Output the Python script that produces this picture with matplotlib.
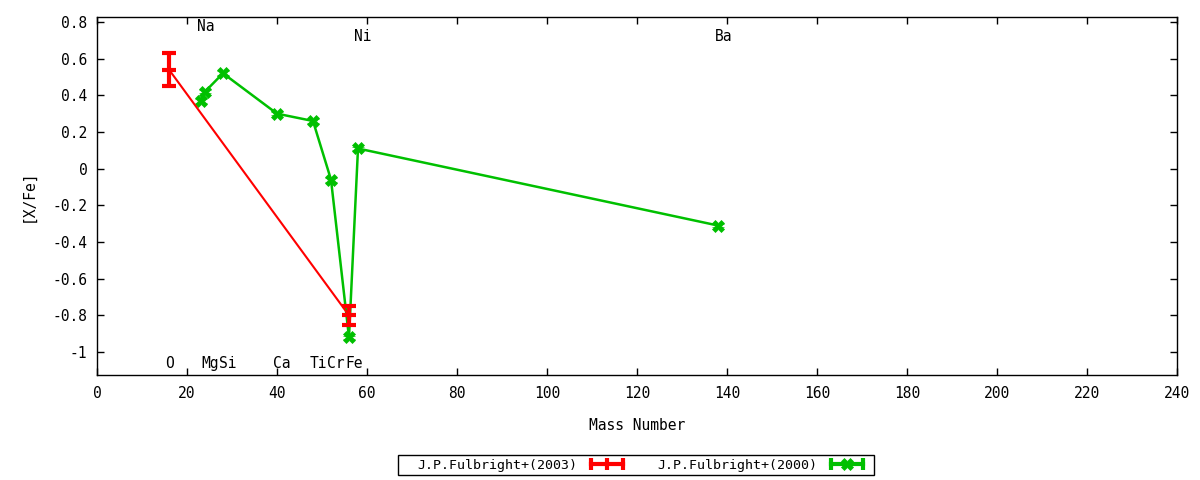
import matplotlib
matplotlib.use("Agg")
import matplotlib.pyplot as plt
from matplotlib.lines import Line2D
from matplotlib.patches import Rectangle
from matplotlib.legend_handler import HandlerLine2D, HandlerTuple

plt.rcParams['font.family'] = ['DejaVu Sans Mono']
plt.rcParams['font.size'] = 9.5

# Data
f2003_mass = [16, 56]
f2003_val = [0.54, -0.80]
f2003_err = [0.09, 0.05]
f2003_label = "J.P.Fulbright+(2003)"

f2000_mass = [23, 24, 28, 40, 48, 52, 56, 58, 138]
f2000_val = [0.37, 0.42, 0.52, 0.30, 0.26, -0.06, -0.92, 0.11, -0.31]
f2000_err = [0.01, 0.01, 0.01, 0.01, 0.01, 0.01, 0.01, 0.01, 0.01]
f2000_label = "J.P.Fulbright+(2000)"

top_elements = ["Na", "Ni", "Ba"]
top_mass = [23, 58, 138]
top_y = [0.773, 0.718, 0.718]
bottom_elements = ["O", "Mg", "Si", "Ca", "Ti", "Cr", "Fe"]
bottom_mass = [16, 24, 28, 40, 48, 52, 56]
bottom_y = -1.06

xticks = list(range(0, 241, 20))
yticks = [0.8, 0.6, 0.4, 0.2, 0, -0.2, -0.4, -0.6, -0.8, -1]
ytick_labels = ["0.8", "0.6", "0.4", "0.2", "0", "-0.2", "-0.4", "-0.6", "-0.8", "-1"]

fig = plt.figure(figsize=(12, 4.8), dpi=100)
ax = fig.add_axes([97/1200, 1-375/480, (1177-97)/1200, (375-17)/480])

red = '#ff0000'
green = '#00c000'

ax.errorbar(f2003_mass, f2003_val, yerr=f2003_err, color=red, lw=1.5,
            elinewidth=3, capsize=5, capthick=3, marker='_', ms=10, mew=3,
            zorder=3)
ax.errorbar(f2000_mass, f2000_val, yerr=f2000_err, color=green, lw=1.8,
            elinewidth=3, capsize=4, capthick=3, marker='X', ms=9, mew=0.5,
            zorder=2)

for el, m, yy in zip(top_elements, top_mass, top_y):
    ax.text(m - 0.8, yy, el, ha='left', va='center', fontsize=10.5)
for el, m in zip(bottom_elements, bottom_mass):
    ax.text(m - 0.8, bottom_y, el, ha='left', va='center', fontsize=10.5)

ax.set_xlim(0, 240)
ax.set_ylim(-1.125, 0.827)
ax.set_xticks(xticks)
ax.set_yticks(yticks)
ax.set_yticklabels(ytick_labels, fontsize=10.5)
ax.set_xticklabels([str(v) for v in xticks], fontsize=10.5)
ax.tick_params(direction='in', top=True, right=True, length=5, width=1)
ax.tick_params(axis='x', pad=8)
ax.tick_params(axis='y', pad=7)
ax.set_xlabel("Mass Number", labelpad=12, fontsize=10.5)
ax.set_ylabel("[X/Fe]", labelpad=12, fontsize=10.5)
for s in ax.spines.values():
    s.set_linewidth(1)

# Legend proxies (gnuplot-style: line with end caps and centre marker)
r_caps = Line2D([], [], color=red, lw=3, marker='|', ms=9, mew=3)
r_mid = Line2D([], [], color=red, lw=0, marker='|', ms=9, mew=3)
g_caps = Line2D([], [], color=green, lw=3, marker='|', ms=9, mew=3)
g_mid = Line2D([], [], color=green, lw=0, marker='X', ms=9, mew=0.5)
hmap = {r_caps: HandlerLine2D(numpoints=2), g_caps: HandlerLine2D(numpoints=2),
        r_mid: HandlerLine2D(numpoints=1), g_mid: HandlerLine2D(numpoints=1),
        tuple: HandlerTuple(ndivide=1)}
leg = fig.legend(handles=[(r_caps, r_mid), (g_caps, g_mid)],
                 labels=[f2003_label, f2000_label], handler_map=hmap,
                 loc='center', bbox_to_anchor=(642/1200, 1-465/480), ncol=2,
                 frameon=False, markerfirst=False, handlelength=3.0,
                 columnspacing=2.27, borderpad=0, handletextpad=0.76,
                 borderaxespad=0, fontsize=9.5)
fig.patches.append(Rectangle((398/1200, 1-475/480), (874-398)/1200, 20/480,
                             transform=fig.transFigure, fill=False,
                             edgecolor='black', lw=1))

fig.savefig("out.png", dpi=100)
